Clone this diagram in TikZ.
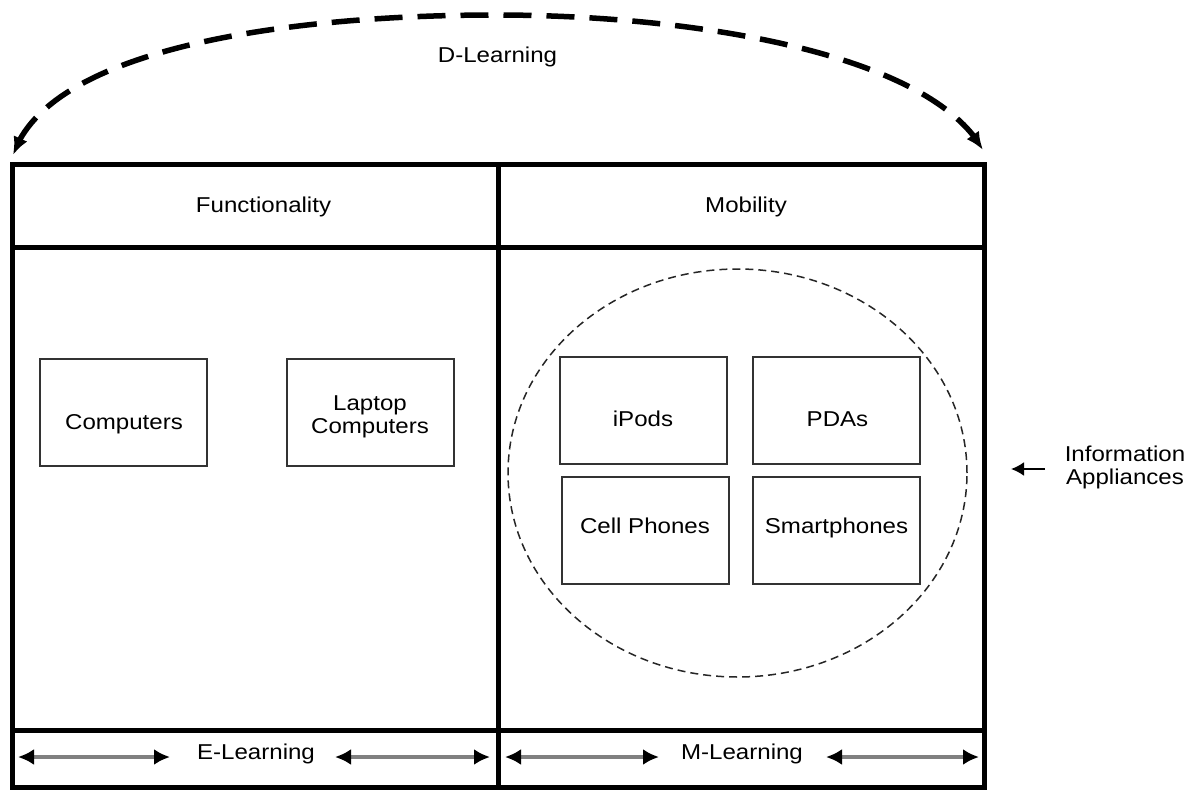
\documentclass[tikz,border=0pt]{standalone}
\usepackage{fontspec}
\setmainfont{Liberation Sans}[FakeStretch=1.12]
\usetikzlibrary{arrows.meta,bending,shapes.geometric}
\begin{document}
\begin{tikzpicture}[x=1pt,y=-1pt,
  txt/.style={font=\fontsize{21.5}{23}\selectfont, inner sep=0pt, align=center},
  frameline/.style={line width=5pt, line join=miter, line cap=rect},
  devbox/.style={draw=black!80, line width=2pt, minimum width=167pt,
                 minimum height=107pt, inner sep=0pt},
  cloud/.style={ellipse, draw=black!85, line width=1.5pt,
                dash pattern=on 8pt off 5pt, inner sep=0pt},
  bigarc/.style={line width=5.5pt, dash pattern=on 28pt off 15pt,
                 {Latex[length=18pt,width=15pt]}-{Latex[length=18pt,width=15pt]}},
  span/.style={line width=4pt, draw=black!50,
               {Latex[length=16pt,width=16pt,color=black]}-{Latex[length=16pt,width=16pt,color=black]}},
  pointer/.style={line width=2pt, -{Latex[length=13pt,width=14pt]}}]
\useasboundingbox (0,0) rectangle (1197,790);

% table frame
\coordinate (f-nw) at (12.5,164);
\coordinate (f-se) at (984.5,787.5);
\coordinate (mid-top) at (498,164);
\coordinate (mid-bot) at (498,787.5);
\coordinate (h-left) at (12.5,247.5);
\coordinate (h-right) at (984.5,247.5);
\coordinate (b-left) at (12.5,730);
\coordinate (b-right) at (984.5,730);
\draw[frameline] (f-nw) rectangle (f-se);
\draw[frameline] (mid-top) -- (mid-bot);
\draw[frameline] (h-left) -- (h-right);
\draw[frameline] (b-left) -- (b-right);

% column headings
\node[txt, anchor=base] (func) at (263.5,212) {Functionality};
\node[txt, anchor=base] (mob) at (746,212) {Mobility};

% D-Learning span over both columns
\node[txt, anchor=base] (dlearn) at (497.5,62) {D-Learning};
\coordinate (dl-left) at (13,155);
\coordinate (dl-top) at (495,15);
\coordinate (dl-right) at (983,150);
\draw[bigarc] (dl-left) .. controls (50,45) and (300,15) .. (dl-top)
              .. controls (700,15) and (930,55) .. (dl-right);

% functionality devices
\node[devbox] (comp) at (123.5,412.5) {};
\node[txt, anchor=base] (comp-t) at (124,429) {Computers};
\node[devbox] (lap) at (370,412.5) {};
\node[txt, anchor=north] (lap-t) at (370,395.5) {Laptop\\Computers};

% information appliances
\node[cloud, minimum width=459pt, minimum height=408pt] (appl) at (737.5,473) {};
\node[devbox] (ipod) at (643,410) {};
\node[txt, anchor=base] (ipod-t) at (643,426) {iPods};
\node[devbox] (pda) at (836.5,410) {};
\node[txt, anchor=base] (pda-t) at (837.5,426) {PDAs};
\node[devbox] (cell) at (645,530) {};
\node[txt, anchor=base] (cell-t) at (645,533) {Cell Phones};
\node[devbox] (smart) at (836.5,530) {};
\node[txt, anchor=base] (smart-t) at (836.5,533) {Smartphones};

\node[txt, anchor=north] (info) at (1125,446) {Information\\Appliances};
\coordinate (info-tail) at (1045,469);
\coordinate (info-tip) at (1011,469);
\draw[pointer] (info-tail) -- (info-tip);

% learning modes along the bottom
\node[txt, anchor=base] (elearn) at (256,759) {E-Learning};
\node[txt, anchor=base] (mlearn) at (742,759) {M-Learning};
\coordinate (e1a) at (18,757);  \coordinate (e1b) at (170,757);
\coordinate (e2a) at (335,757); \coordinate (e2b) at (490,757);
\coordinate (m1a) at (505,757); \coordinate (m1b) at (659,757);
\coordinate (m2a) at (826,757); \coordinate (m2b) at (979,757);
\draw[span] (e1a) -- (e1b);
\draw[span] (e2a) -- (e2b);
\draw[span] (m1a) -- (m1b);
\draw[span] (m2a) -- (m2b);
\end{tikzpicture}
\end{document}
